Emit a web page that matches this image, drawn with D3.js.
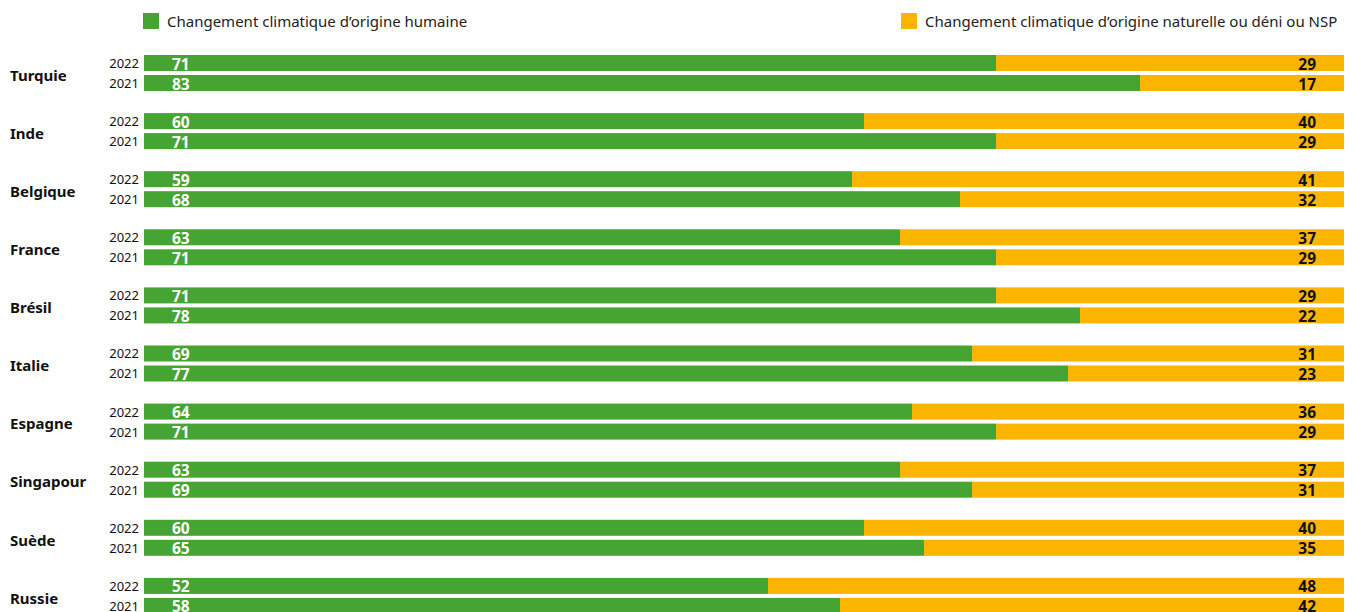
<!DOCTYPE html>
<html lang="fr">
<head>
<meta charset="utf-8">
<script src="https://d3js.org/d3.v7.min.js"></script>
<style>
  body { margin: 0; background: #fff; }
  svg { font-family: "Noto Sans", "Open Sans", sans-serif; }
</style>
</head>
<body>
<svg width="1354" height="612"></svg>
<script>
// data
const countries = ["Turquie", "Inde", "Belgique", "France", "Brésil", "Italie", "Espagne", "Singapour", "Suède", "Russie"];
const years = ["2022", "2021"];
const human2022 = [71, 60, 59, 63, 71, 69, 64, 63, 60, 52];
const human2021 = [83, 71, 68, 71, 78, 77, 71, 69, 65, 58];
const other2022 = [29, 40, 41, 37, 29, 31, 36, 37, 40, 48];
const other2021 = [17, 29, 32, 29, 22, 23, 29, 31, 35, 42];
const legendLabels = ["Changement climatique d’origine humaine", "Changement climatique d’origine naturelle ou déni ou NSP"];

const green = "#46a532", orange = "#fbb500";

// flatten into rows
const rows = [];
countries.forEach(function (c, i) {
  rows.push({ country: c, year: "2022", human: human2022[i], other: other2022[i] });
  rows.push({ country: c, year: "2021", human: human2021[i], other: other2021[i] });
});

const svg = d3.select("svg");

const x = d3.scaleLinear().domain([0, 100]).range([144, 1344]);
const y0 = d3.scaleBand().domain(countries).range([55, 55 + 58.1 * countries.length]);
const y1 = d3.scaleBand().domain(years).range([0, 36]).paddingInner(0.2);

// legend
const legend = svg.append("g");
legend.append("rect").attr("x", 143).attr("y", 13).attr("width", 16).attr("height", 16).attr("fill", green);
legend.append("text").attr("x", 167).attr("y", 22).attr("dy", "0.35em")
  .attr("font-size", 15).attr("fill", "#222").text(legendLabels[0]);
legend.append("rect").attr("x", 901).attr("y", 13).attr("width", 16).attr("height", 16).attr("fill", orange);
legend.append("text").attr("x", 925).attr("y", 22).attr("dy", "0.35em")
  .attr("font-size", 15).attr("fill", "#222").text(legendLabels[1]);

// country labels
svg.append("g").selectAll("text").data(countries).enter().append("text")
  .attr("x", 10)
  .attr("y", function (d) { return y0(d) + 20.5; })
  .attr("dy", "0.35em")
  .attr("font-size", 15).attr("font-weight", "bold").attr("fill", "#111")
  .text(function (d) { return d; });

const row = svg.append("g").selectAll("g").data(rows).enter().append("g")
  .attr("transform", function (d) { return "translate(0," + (y0(d.country) + y1(d.year)) + ")"; });

// year labels
row.append("text")
  .attr("x", 139).attr("y", y1.bandwidth() / 2).attr("dy", "0.38em")
  .attr("text-anchor", "end").attr("font-size", 13).attr("fill", "#111")
  .text(function (d) { return d.year; });

// bars
row.append("rect")
  .attr("x", x(0))
  .attr("width", function (d) { return x(d.human) - x(0); })
  .attr("height", y1.bandwidth())
  .attr("fill", green);
row.append("rect")
  .attr("x", function (d) { return x(d.human); })
  .attr("width", function (d) { return x(d.human + d.other) - x(d.human); })
  .attr("height", y1.bandwidth())
  .attr("fill", orange);

// value labels
row.append("text")
  .attr("x", 172).attr("y", y1.bandwidth() / 2).attr("dy", "0.42em")
  .attr("font-size", 15.5).attr("font-weight", "bold").attr("fill", "#fff")
  .text(function (d) { return d.human; });
row.append("text")
  .attr("x", 1316).attr("y", y1.bandwidth() / 2).attr("dy", "0.42em")
  .attr("text-anchor", "end")
  .attr("font-size", 15.5).attr("font-weight", "bold").attr("fill", "#111")
  .text(function (d) { return d.other; });
</script>
</body>
</html>
